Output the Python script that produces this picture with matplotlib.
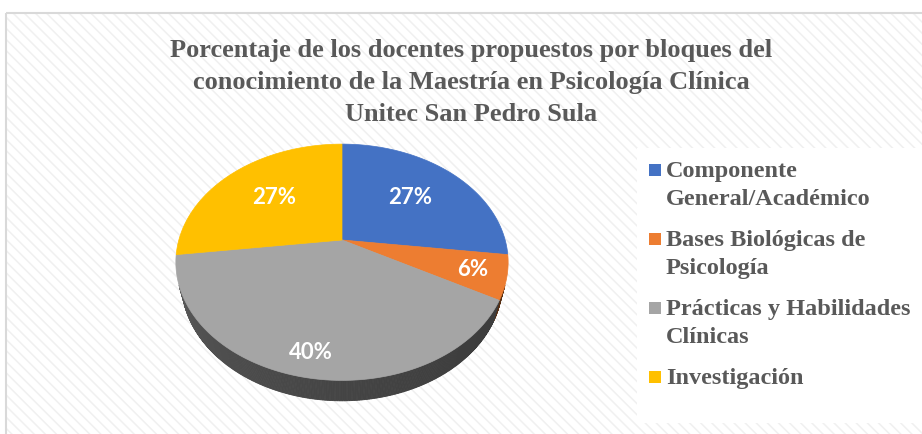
import textwrap
import numpy as np
import matplotlib
matplotlib.use("Agg")
import matplotlib.pyplot as plt
from matplotlib.patches import Rectangle, Polygon

# data
categories = ["Componente General/Académico", "Bases Biológicas de Psicología",
              "Prácticas y Habilidades Clínicas", "Investigación"]
values = [27, 6, 40, 27]
colors = ["#4472C4", "#ED7D31", "#A5A5A5", "#FFC000"]
title = ("Porcentaje de los docentes propuestos por bloques del\n"
         "conocimiento de la Maestría en Psicología Clínica\n"
         "Unitec San Pedro Sula")

# layout of the tilted pie (pixel space)
W, H = 922, 434
CX, CY = 342, 240
F, D0 = 620.0, 3.8
ALPHA = np.radians(44.3)
SA, CA = np.sin(ALPHA), np.cos(ALPHA)
DEPTH = 0.19
label_r = [0.6, 0.8, 0.85, 0.6]


def project(r, theta, drop=0.0):
    # theta in degrees, clockwise from the back (top of picture)
    t = np.radians(theta)
    x = r * np.sin(t)
    z = r * np.cos(t)
    y = z * SA - drop * CA
    d = D0 + z * CA + drop * SA
    return CX + F * x / d, CY - F * y / d


def shade(color, k):
    rgb = np.array(matplotlib.colors.to_rgb(color))
    return tuple(rgb * k)


plt.rcParams['hatch.linewidth'] = 1.1
fig = plt.figure(figsize=(W / 100, H / 100), dpi=100)
ax = fig.add_axes([0, 0, 1, 1])
ax.set_xlim(0, W)
ax.set_ylim(H, 0)
ax.axis('off')

# striped chart area + border
ax.add_patch(Rectangle((6, 13), W + 10, H, facecolor='white', edgecolor='#f0f0f0',
                       hatch='\\\\\\', linewidth=0))
ax.add_patch(Rectangle((6, 13), W + 10, H, facecolor='none', edgecolor='#d9d9d9',
                       linewidth=1.5))
ax.add_patch(Rectangle((637, 148), W - 637, 275, facecolor='white', edgecolor='none'))

total = float(sum(values))
bounds = np.concatenate([[0], np.cumsum(values) / total * 360])
limit = -1.0 / (D0 * CA)

# side walls (only the part facing the viewer)
for i, c in enumerate(colors):
    a, b = bounds[i], bounds[i + 1]
    ts = np.arange(a, b + 0.5, 0.5)
    ts = ts[ts <= b]
    for t1, t2 in zip(ts[:-1], ts[1:]):
        tm = (t1 + t2) / 2
        if np.cos(np.radians(tm)) >= limit:
            continue
        k = 0.36 + 0.22 * ((tm - 90) / 180) ** 2
        pts = [project(1, t1), project(1, t2), project(1, t2, DEPTH), project(1, t1, DEPTH)]
        ax.add_patch(Polygon(pts, closed=True, facecolor=shade(c, k),
                             edgecolor=shade(c, k), linewidth=0.6))

# top faces
for i, c in enumerate(colors):
    a, b = bounds[i], bounds[i + 1]
    ts = np.linspace(a, b, 200)
    pts = [(CX, CY)] + [project(1, t) for t in ts]
    ax.add_patch(Polygon(pts, closed=True, facecolor=c, edgecolor=c, linewidth=0.5))

# percentage labels
for i, v in enumerate(values):
    mid = (bounds[i] + bounds[i + 1]) / 2
    x, y = project(label_r[i], mid)
    ax.text(x, y, f"{v}%", ha='center', va='center', color='white',
            fontsize=16, fontweight='bold', family='Lato')

# title
for j, line in enumerate(title.split('\n')):
    ax.text(471, 57 + j * 32, line, ha='center', va='baseline', color='#595959',
            fontsize=19, fontweight='bold', family='Liberation Serif')

# legend
for i, (name, c) in enumerate(zip(categories, colors)):
    y0 = 177 + i * 69
    ax.add_patch(Rectangle((649, y0 - 13), 12, 12, facecolor=c, edgecolor='none'))
    for j, line in enumerate(textwrap.fill(name, 23).split('\n')):
        ax.text(666, y0 + j * 28, line, ha='left', va='baseline', color='#595959',
                fontsize=17.5, fontweight='bold', family='Liberation Serif')

fig.savefig("out.png", dpi=100)
